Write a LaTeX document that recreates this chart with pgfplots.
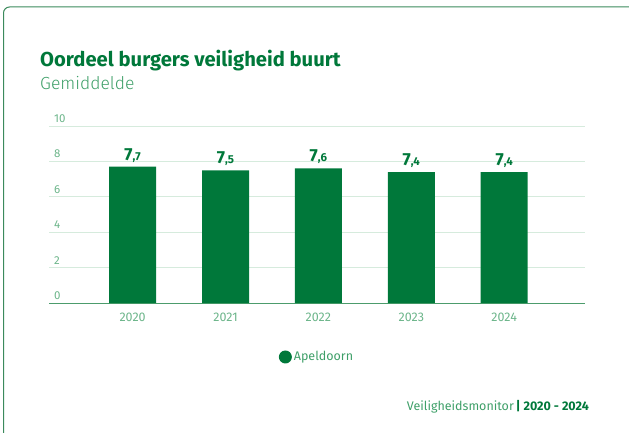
\documentclass[border=0pt]{standalone}
\usepackage{fontspec}
\setmainfont{Fira Sans}
\newfontfamily\lightf{Fira Sans Light}
\usepackage{pgfplots}
\usepackage{pgfplotstable}
\pgfplotsset{compat=1.18}
\definecolor{barc}{HTML}{00783A}
\definecolor{titlec}{HTML}{00783A}
\definecolor{subc}{HTML}{3E9F68}
\definecolor{tickc}{HTML}{6CB58A}
\definecolor{gridc}{HTML}{D6EBDD}
\definecolor{axisc}{HTML}{4C9C6C}
\definecolor{cardc}{HTML}{3B8A5C}

\pgfplotstableread{
x y i d
0 7.7 7 7
1 7.5 7 5
2 7.6 7 6
3 7.4 7 4
4 7.4 7 4
}\data

\begin{document}
\begin{tikzpicture}
\path[use as bounding box] (0pt,0pt) rectangle (629pt,432pt);
% card outline, runs off the right and bottom edge
\draw[cardc, line width=1pt, rounded corners=6pt] (3.5pt,-20pt) -- (3.5pt,425pt) -- (650pt,425pt);

\node[anchor=base west, inner sep=0pt, text=titlec, font=\bfseries\fontsize{20.2}{22}\selectfont]
  at (40pt,365pt) {Oordeel burgers veiligheid buurt};
\node[anchor=base west, inner sep=0pt, text=subc, font=\lightf\fontsize{17.5}{19}\selectfont]
  at (40pt,342pt) {Gemiddelde};

\begin{axis}[
  at={(49pt,129pt)}, anchor=south west,
  scale only axis, width=536pt, height=177pt,
  ybar, bar width=47pt,
  xmin=-0.9, xmax=4.87, ymin=0, ymax=10,
  xtick=data, xticklabels={2020,2021,2022,2023,2024},
  ytick={0,2,4,6,8,10},
  major tick length=0pt,
  axis x line*=bottom, axis y line*=left,
  x axis line style={draw=axisc, line width=1pt, -},
  y axis line style={draw=none},
  ymajorgrids, grid style={draw=gridc, line width=0.9pt},
  /pgf/number format/assume math mode=true,
  xticklabel style={text=tickc, font=\fontsize{12.5}{13}\selectfont, yshift=-6pt},
  yticklabel style={text=tickc, font=\fontsize{11.5}{12}\selectfont, anchor=south west, xshift=1.5pt},
  visualization depends on={\thisrow{i}\as\ip},
  visualization depends on={\thisrow{d}\as\dv},
  nodes near coords={\bfseries\fontsize{17.5}{18}\selectfont\pgfmathprintnumber{\ip}{\fontsize{11.5}{12}\selectfont,\pgfmathprintnumber{\dv}}},
  nodes near coords style={text=titlec, anchor=south, yshift=1pt},
  legend style={at={(0.5,-0.305)}, anchor=center, draw=none, fill=none,
    font=\fontsize{12.5}{14}\selectfont, text=subc},
  legend image code/.code={\fill[barc] (1pt,0pt) circle (6.5pt);},
]
\addplot[fill=barc, draw=none] table[x=x, y=y] {\data};
\addlegendentry{Apeldoorn}
\end{axis}

\node[anchor=base east, inner sep=0pt, font=\fontsize{12.5}{14}\selectfont]
  at (589pt,22pt) {\textcolor{subc}{Veiligheidsmonitor}\,\textcolor{titlec}{\bfseries | 2020 - 2024}};
\end{tikzpicture}
\end{document}
